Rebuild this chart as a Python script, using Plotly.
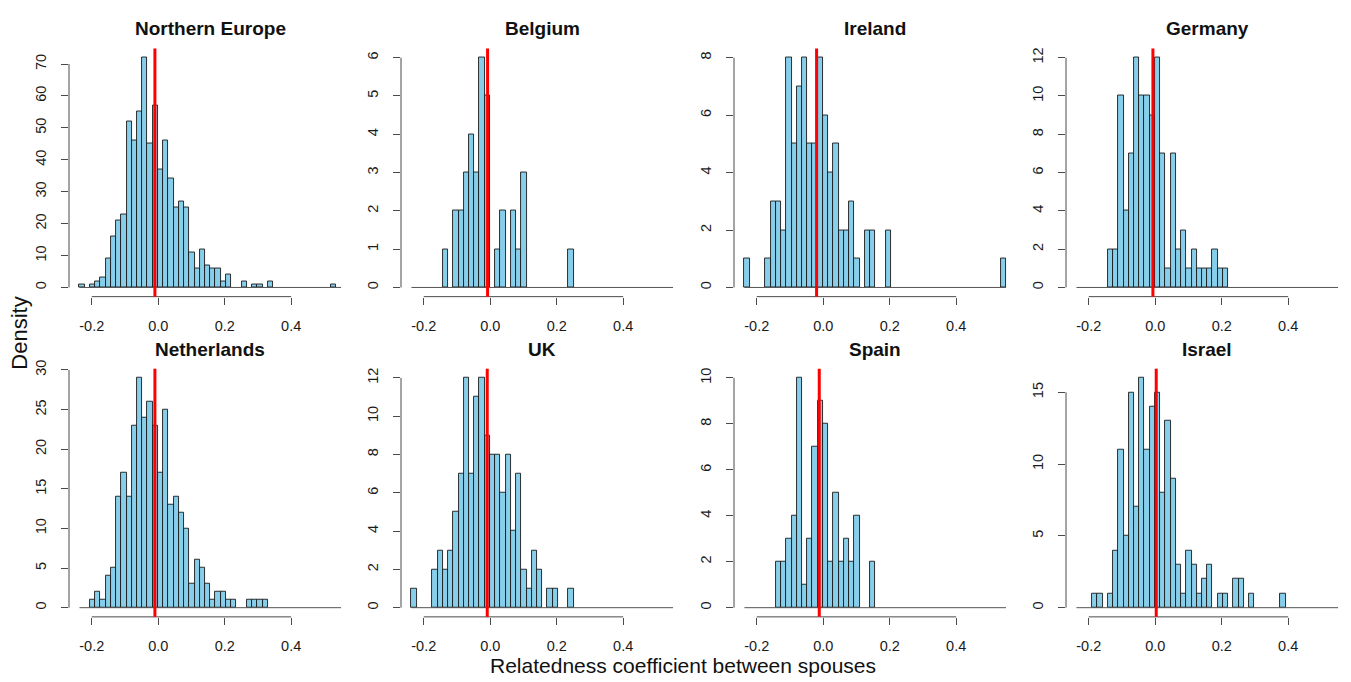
import plotly.graph_objects as go

# ---------------- data ----------------
BIN_START = -0.237
BIN_WIDTH = 0.01574
N_BINS = 50

countries = ["Northern Europe", "Belgium", "Ireland", "Germany",
             "Netherlands", "UK", "Spain", "Israel"]

northern_europe = [1, 0, 1, 2, 3, 9, 16, 21, 23, 52, 46, 55, 72, 45, 57, 37, 46, 34, 25, 27,
                   25, 11, 6, 12, 7, 6, 6, 2, 4, 0, 0, 2, 0, 1, 1, 0, 2, 0, 0, 0,
                   0, 0, 0, 0, 0, 0, 0, 0, 1, 0]
belgium = [0, 0, 0, 0, 0, 0, 1, 0, 2, 2, 3, 4, 3, 6, 5, 0, 1, 2, 0, 2,
           1, 3, 0, 0, 0, 0, 0, 0, 0, 0, 1, 0, 0, 0, 0, 0, 0, 0, 0, 0,
           0, 0, 0, 0, 0, 0, 0, 0, 0, 0]
ireland = [1, 0, 0, 0, 1, 3, 3, 2, 8, 5, 7, 8, 5, 5, 8, 6, 4, 5, 2, 2,
           3, 1, 0, 2, 2, 0, 0, 2, 0, 0, 0, 0, 0, 0, 0, 0, 0, 0, 0, 0,
           0, 0, 0, 0, 0, 0, 0, 0, 0, 1]
germany = [0, 0, 0, 0, 0, 0, 2, 2, 10, 4, 7, 12, 10, 10, 9, 12, 7, 1, 7, 2,
           3, 1, 2, 1, 1, 1, 2, 1, 1, 0, 0, 0, 0, 0, 0, 0, 0, 0, 0, 0,
           0, 0, 0, 0, 0, 0, 0, 0, 0, 0]
netherlands = [0, 0, 1, 2, 1, 4, 5, 14, 17, 14, 23, 29, 24, 26, 23, 17, 25, 13, 14, 12,
               10, 3, 6, 5, 3, 1, 2, 2, 1, 1, 0, 0, 1, 1, 1, 1, 0, 0, 0, 0,
               0, 0, 0, 0, 0, 0, 0, 0, 0, 0]
uk = [1, 0, 0, 0, 2, 3, 2, 3, 5, 7, 12, 7, 11, 12, 9, 8, 8, 6, 8, 4,
      7, 2, 1, 3, 2, 0, 1, 1, 0, 0, 1, 0, 0, 0, 0, 0, 0, 0, 0, 0,
      0, 0, 0, 0, 0, 0, 0, 0, 0, 0]
spain = [0, 0, 0, 0, 0, 0, 2, 2, 3, 4, 10, 1, 3, 7, 9, 8, 2, 5, 2, 3,
         2, 4, 0, 0, 2, 0, 0, 0, 0, 0, 0, 0, 0, 0, 0, 0, 0, 0, 0, 0,
         0, 0, 0, 0, 0, 0, 0, 0, 0, 0]
israel = [0, 0, 0, 1, 1, 0, 1, 4, 11, 5, 15, 7, 16, 11, 14, 15, 8, 13, 9, 3,
          1, 4, 3, 1, 2, 3, 0, 1, 1, 0, 2, 2, 0, 1, 0, 0, 0, 0, 0, 1,
          0, 0, 0, 0, 0, 0, 0, 0, 0, 0]

means = [-0.010, -0.008, -0.020, -0.007, -0.010, -0.009, -0.012, 0.003]
ytick_step = [10, 1, 2, 2, 5, 2, 2, 5]
ytick_max = [70, 6, 8, 12, 30, 12, 10, 15]
x_tick_vals = [-0.2, 0.0, 0.2, 0.4]
x_tick_text = ["-0.2", "0.0", "0.2", "0.4"]

series = [northern_europe, belgium, ireland, germany,
          netherlands, uk, spain, israel]

# ---------------- layout geometry (pixels) ----------------
W, H = 1351, 682
col_left = [69, 401, 734, 1066]
plot_w = 282.5
row_top = [40, 364.5]
plot_h = 251.5

FONT = "Liberation Sans, Arial, Helvetica, sans-serif"
AXIS_COLOR = "#4a4a4a"
TEXT_COLOR = "#1a1a1a"

bin_end = BIN_START + BIN_WIDTH * N_BINS
span = bin_end - BIN_START
x_range = [BIN_START - 0.04 * span, bin_end + 0.04 * span]

fig = go.Figure()
layout = dict(width=W, height=H, margin=dict(l=0, r=0, t=0, b=0, pad=0),
              autosize=False,
              paper_bgcolor="white", plot_bgcolor="white",
              showlegend=False, shapes=[], annotations=[])

for i, (name, heights) in enumerate(zip(countries, series)):
    r, c = divmod(i, 4)
    ax = "" if i == 0 else str(i + 1)
    xref, yref = "x" + ax, "y" + ax
    centers = [BIN_START + BIN_WIDTH * (k + 0.5) for k in range(N_BINS)]
    xs = [cx for cx, h in zip(centers, heights) if h > 0]
    ys = [h for h in heights if h > 0]

    # baseline of empty bins (R draws zero-height rectangles as a line)
    fig.add_trace(go.Scatter(x=[BIN_START, bin_end], y=[0, 0], mode="lines",
                             line=dict(color="#555555", width=1),
                             xaxis=xref, yaxis=yref, hoverinfo="skip"))
    fig.add_trace(go.Bar(x=xs, y=ys, width=BIN_WIDTH,
                         marker=dict(color="#87CEEB",
                                     line=dict(color="#1a1a1a", width=0.9)),
                         xaxis=xref, yaxis=yref, name=name))

    ymax = max(heights)
    x0 = col_left[c] / W
    x1 = (col_left[c] + plot_w) / W
    y1 = 1 - row_top[r] / H
    y0 = 1 - (row_top[r] + plot_h) / H

    layout["xaxis" + ax] = dict(
        domain=[x0, x1], range=x_range, anchor=yref,
        showgrid=False, zeroline=False, showline=False,
        ticks="outside", ticklen=7, tickwidth=1, tickcolor=AXIS_COLOR,
        tickvals=x_tick_vals, ticktext=x_tick_text,
        tickfont=dict(family=FONT, size=14.5, color=TEXT_COLOR),
        ticklabelstandoff=9, fixedrange=True)
    layout["yaxis" + ax] = dict(
        domain=[y0, y1], range=[-0.04 * ymax, 1.04 * ymax], anchor=xref,
        showgrid=False, zeroline=False, showline=False,
        ticks="outside", ticklen=7, tickwidth=1, tickcolor=AXIS_COLOR,
        tickvals=list(range(0, ytick_max[i] + 1, ytick_step[i])),
        tickangle=-90,
        tickfont=dict(family=FONT, size=14.5, color=TEXT_COLOR),
        ticklabelstandoff=9, fixedrange=True)

    # R-style detached axis lines
    layout["shapes"].append(dict(type="line", xref=xref, yref=yref + " domain",
                                 x0=x_tick_vals[0], x1=x_tick_vals[-1], y0=0, y1=0,
                                 line=dict(color=AXIS_COLOR, width=1)))
    layout["shapes"].append(dict(type="line", xref=xref + " domain", yref=yref,
                                 x0=0, x1=0, y0=0, y1=ytick_max[i],
                                 line=dict(color=AXIS_COLOR, width=1)))
    # mean line
    layout["shapes"].append(dict(type="line", xref=xref, yref=yref + " domain",
                                 x0=means[i], x1=means[i], y0=0, y1=1,
                                 line=dict(color="#ff0000", width=3)))
    # panel title
    layout["annotations"].append(dict(
        text="<b>%s</b>" % name, xref="paper", yref="paper",
        x=(col_left[c] + plot_w / 2) / W,
        y=1 - (20 if r == 0 else 345) / H,
        xanchor="center", yanchor="middle", showarrow=False,
        font=dict(family=FONT, size=19, color="#111111")))

layout["annotations"].append(dict(
    text="Density", xref="paper", yref="paper", x=20 / W, y=1 - 329 / H,
    xanchor="center", yanchor="middle", textangle=-90, showarrow=False,
    font=dict(family=FONT, size=22, color="#111111")))
layout["annotations"].append(dict(
    text="Relatedness coefficient between spouses", xref="paper", yref="paper",
    x=682.5 / W, y=1 - 665 / H, xanchor="center", yanchor="middle",
    showarrow=False, font=dict(family=FONT, size=21, color="#111111")))

fig.update_layout(**layout)
fig.update_layout(bargap=0)

post = ("document.documentElement.style.margin='0';"
        "document.body.style.margin='0';document.body.style.padding='0';"
        "document.body.style.overflow='hidden';"
        "var gd=document.getElementById('{plot_id}');"
        "gd.style.position='absolute';gd.style.left='0px';gd.style.top='0px';"
        "window.scrollTo(0,0);")
fig.write_html("out.html", post_script=post, config={"displayModeBar": False})
